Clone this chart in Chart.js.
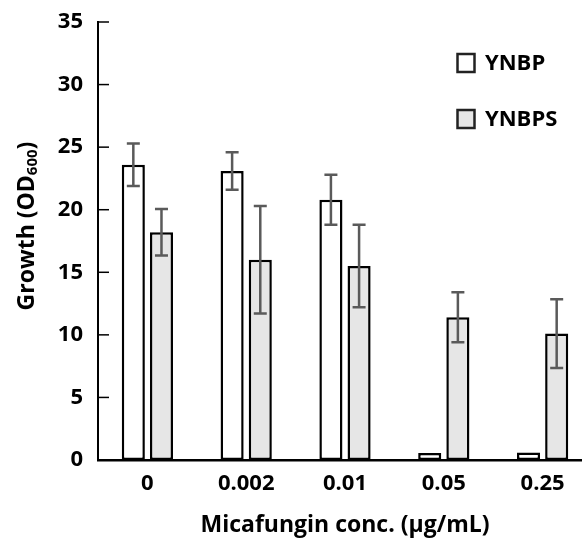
<!DOCTYPE html>
<html>
<head>
<meta charset="utf-8">
<script src="https://cdn.jsdelivr.net/npm/chart.js@4"></script>
<style>
  html, body { margin: 0; padding: 0; background: #fff; overflow: hidden; }
  #wrap { width: 592px; height: 539px; }
</style>
</head>
<body>
<div id="wrap"><canvas id="growth"></canvas></div>
<script>
// data
const concLabels = ["0", "0.002", "0.01", "0.05", "0.25"];
const ynbp = [23.6, 23.1, 20.8, 0.55, 0.6];
const ynbpErr = [1.7, 1.5, 2.0, 0, 0];
const ynbps = [18.2, 16.0, 15.5, 11.4, 10.1];
const ynbpsErr = [1.85, 4.3, 3.3, 2.0, 2.75];

const FONT = "'Open Sans', 'Noto Sans', sans-serif";

// error bars, inward y ticks, y title with subscript, legend
const extras = {
  id: "extras",
  afterDatasetsDraw(chart) {
    const ctx = chart.ctx;
    const y = chart.scales.y;
    const errs = [ynbpErr, ynbpsErr];
    ctx.save();
    ctx.strokeStyle = "#5a5a5a";
    ctx.lineWidth = 2.5;
    chart.data.datasets.forEach((ds, i) => {
      const meta = chart.getDatasetMeta(i);
      meta.data.forEach((bar, j) => {
        const e = errs[i][j];
        if (!e) return;
        const x = bar.x;
        const top = y.getPixelForValue(ds.data[j] + e);
        const bot = y.getPixelForValue(ds.data[j] - e);
        ctx.beginPath();
        ctx.moveTo(x, top); ctx.lineTo(x, bot);
        ctx.moveTo(x - 6.5, top); ctx.lineTo(x + 6.5, top);
        ctx.moveTo(x - 6.5, bot); ctx.lineTo(x + 6.5, bot);
        ctx.stroke();
      });
    });
    ctx.restore();
  },
  afterDraw(chart) {
    const ctx = chart.ctx;
    const y = chart.scales.y;
    const area = chart.chartArea;
    ctx.save();
    // tick marks pointing into the plot
    ctx.strokeStyle = "#000";
    ctx.lineWidth = 1.5;
    y.ticks.forEach(t => {
      const py = y.getPixelForValue(t.value);
      ctx.beginPath();
      ctx.moveTo(area.left, py); ctx.lineTo(area.left + 11, py);
      ctx.stroke();
    });

    // y axis title
    ctx.translate(27, 226);
    ctx.rotate(-Math.PI / 2);
    ctx.fillStyle = "#000";
    ctx.textBaseline = "middle";
    const main = "Growth (OD";
    const sub = "600";
    ctx.font = "bold 23px " + FONT;
    const w1 = ctx.measureText(main).width;
    const w3 = ctx.measureText(")").width;
    ctx.font = "bold 15px " + FONT;
    const w2 = ctx.measureText(sub).width;
    let x0 = -(w1 + w2 + w3) / 2;
    ctx.font = "bold 23px " + FONT;
    ctx.fillText(main, x0, 0);
    ctx.font = "bold 15px " + FONT;
    ctx.fillText(sub, x0 + w1, 6);
    ctx.font = "bold 23px " + FONT;
    ctx.fillText(")", x0 + w1 + w2, 0);
    ctx.restore();

    // legend
    ctx.save();
    const fills = ["#ffffff", "#e6e6e6"];
    ctx.font = "bold 22px " + FONT;
    ctx.textBaseline = "middle";
    chart.data.datasets.forEach((ds, i) => {
      const cy = 63 + i * 56;
      ctx.fillStyle = fills[i];
      ctx.fillRect(457.5, cy - 9, 17, 18);
      ctx.strokeStyle = "#222";
      ctx.lineWidth = 2.5;
      ctx.strokeRect(457.5, cy - 9, 17, 18);
      ctx.fillStyle = "#000";
      ctx.fillText(ds.label, 485, cy + 1);
    });
    ctx.restore();
  }
};

new Chart(document.getElementById("growth"), {
  type: "bar",
  data: {
    labels: concLabels,
    datasets: [
      {
        label: "YNBP",
        data: ynbp,
        backgroundColor: "#ffffff",
        borderColor: "#000000",
        borderWidth: 2.5,
        borderSkipped: false,
        categoryPercentage: 0.57,
        barPercentage: 0.82,
      },
      {
        label: "YNBPS",
        data: ynbps,
        backgroundColor: "#e6e6e6",
        borderColor: "#000000",
        borderWidth: 2.5,
        borderSkipped: false,
        categoryPercentage: 0.57,
        barPercentage: 0.82,
      },
    ],
  },
  options: {
    responsive: true,
    maintainAspectRatio: false,
    animation: false,
    layout: { padding: { top: 22, right: 0, left: 0, bottom: 0 } },
    plugins: {
      legend: { display: false },
      tooltip: { enabled: false },
    },
    scales: {
      x: {
        grid: { display: false, drawTicks: false },
        border: { color: "#000", width: 2.5 },
        ticks: { color: "#000", font: { family: FONT, size: 22, weight: "bold" }, padding: 11, maxRotation: 0 },
        title: {
          display: true,
          text: "Micafungin conc. (\u00b5g/mL)",
          color: "#000",
          font: { family: FONT, size: 23, weight: "bold" },
          padding: { top: 0, bottom: 0 },
        },
        afterFit(scale) { scale.height = 79; },
      },
      y: {
        min: 0,
        max: 35,
        grid: { display: false, drawTicks: false },
        border: { color: "#000", width: 2 },
        ticks: { stepSize: 5, color: "#000", font: { family: FONT, size: 22, weight: "bold" }, padding: 15 },
        afterFit(scale) {
          scale.width = 98;
          scale.paddingTop = 0;
          scale.paddingBottom = 0;
        },
      },
    },
  },
  plugins: [extras],
});
</script>
</body>
</html>
